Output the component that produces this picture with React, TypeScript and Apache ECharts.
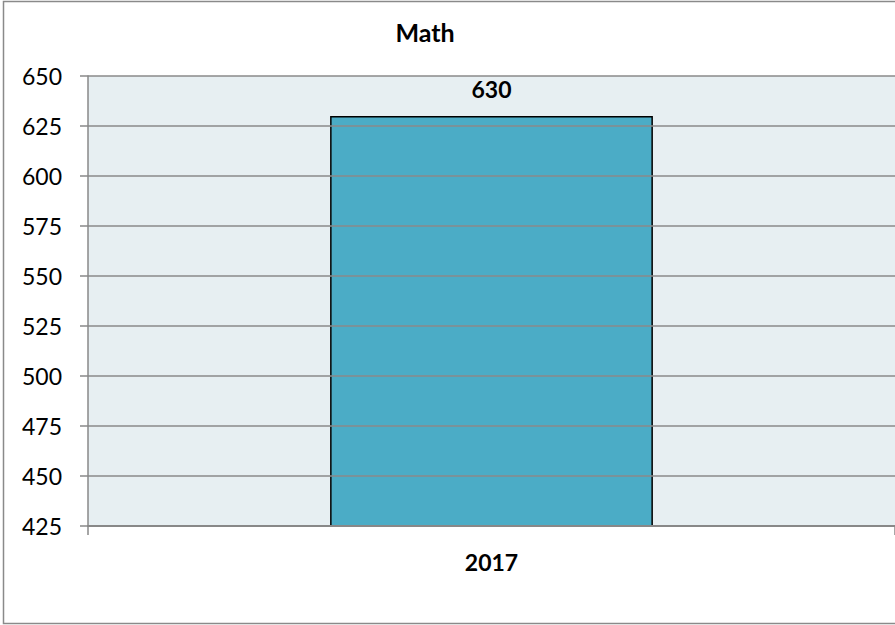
import React, { useEffect, useRef } from "react";
import * as echarts from "echarts";

const categories: string[] = ["2017"];
const mathScores: number[] = [630];
const chartTitle = "Math";
const yMin = 425;
const yMax = 650;
const yStep = 25;

export default function App() {
  const ref = useRef<HTMLDivElement>(null);
  useEffect(() => {
    document.body.style.margin = "0";
    if (!ref.current) return;
    const chart = echarts.init(ref.current, undefined, { renderer: "svg" });
    const font = "Lato, 'Open Sans', sans-serif";
    chart.setOption({
      animation: false,
      backgroundColor: "#ffffff",
      textStyle: { fontFamily: font },
      graphic: [
        {
          type: "rect",
          z: -10,
          silent: true,
          shape: { x: 3.5, y: 1.5, width: 1000, height: 622 },
          style: { fill: "none", stroke: "#8a8a8a", lineWidth: 1.5 },
        },
        {
          type: "text",
          x: 425,
          y: 32,
          style: {
            text: chartTitle,
            font: `bold 25px ${font}`,
            fill: "#000",
            textAlign: "center",
            textVerticalAlign: "middle",
          },
        },
      ],
      grid: {
        left: 88,
        top: 76,
        width: 808,
        height: 450,
        show: true,
        backgroundColor: "#E7EFF2",
        borderWidth: 0,
      },
      xAxis: {
        type: "category",
        data: categories,
        z: 5,
        axisLine: { show: true, lineStyle: { color: "#888888", width: 2 } },
        axisTick: { show: true, length: 9, lineStyle: { color: "#888888", width: 1.5 } },
        axisLabel: {
          margin: 24,
          fontSize: 23,
          fontWeight: "bold",
          color: "#000",
          fontFamily: font,
        },
        splitLine: { show: false },
      },
      yAxis: {
        type: "value",
        min: yMin,
        max: yMax,
        interval: yStep,
        z: 5,
        axisLine: { show: true, lineStyle: { color: "#888888", width: 1.5 } },
        axisTick: { show: true, length: 8, lineStyle: { color: "#888888", width: 1.5 } },
        axisLabel: { margin: 26, fontSize: 23, color: "#000", fontFamily: font },
        splitLine: { show: true, lineStyle: { color: "#8a8a8a", width: 1.5 } },
      },
      series: [
        {
          type: "bar",
          data: mathScores,
          barWidth: "40%",
          itemStyle: { color: "#4BACC6", borderColor: "#000", borderWidth: 1.5 },
          label: {
            show: true,
            position: "top",
            distance: 16,
            fontSize: 23,
            fontWeight: "bold",
            color: "#000",
            fontFamily: font,
          },
        },
      ],
    });
    return () => chart.dispose();
  }, []);
  return <div ref={ref} style={{ width: 895, height: 625 }} />;
}
